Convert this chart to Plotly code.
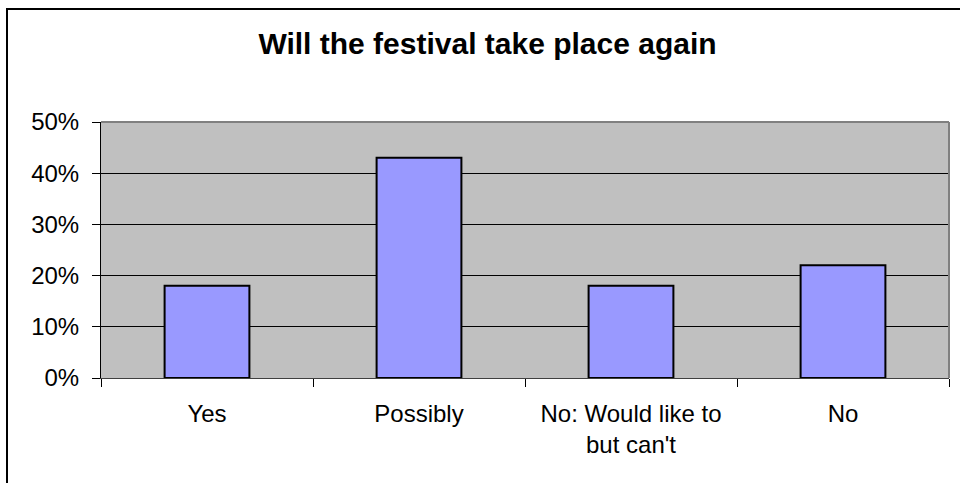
import plotly.graph_objects as go

categories = ["Yes", "Possibly", "No: Would like to<br>but can't", "No"]
values = [0.18, 0.43, 0.18, 0.22]
y_ticks = [0, 0.1, 0.2, 0.3, 0.4, 0.5]
y_tick_labels = ["0%", "10%", "20%", "30%", "40%", "50%"]

W, H = 960, 483
L, R, T, B = 101, 11, 122, 105
pw = W - L - R
ph = H - T - B

def px_x(x):
    return (x - L) / pw

def px_y(y):
    return (H - B - y) / ph

FONT = "Liberation Sans, Arial, sans-serif"

fig = go.Figure()
fig.add_trace(go.Bar(
    x=categories, y=values,
    width=0.4,
    marker=dict(color="#9999FF", line=dict(color="black", width=2)),
))

fig.update_layout(
    width=W, height=H,
    margin=dict(l=L, r=R, t=T, b=B, pad=0),
    paper_bgcolor="white",
    plot_bgcolor="#C0C0C0",
    showlegend=False,
    font=dict(family=FONT, color="black", size=24),
    title=dict(
        text="<b>Will the festival take place again</b>",
        x=487.5 / W, xanchor="center",
        y=1 - 43 / H, yanchor="middle",
        xref="container", yref="container",
        font=dict(family=FONT, size=30, color="black"),
    ),
    bargap=0.6,
)

fig.update_yaxes(
    range=[0, 0.5],
    tickvals=y_ticks, ticktext=y_tick_labels,
    showgrid=True, gridcolor="black", gridwidth=1,
    zeroline=False,
    ticks="outside", ticklen=8, tickcolor="black", tickwidth=1,
    showline=True, linecolor="black", linewidth=1,
    ticklabelstandoff=8,
    tickfont=dict(family=FONT, size=24, color="black"),
)
fig.update_xaxes(
    tickson="boundaries",
    ticks="outside", ticklen=8, tickcolor="black", tickwidth=1,
    showline=True, linecolor="#404040", linewidth=1,
    showgrid=False,
    ticklabelstandoff=14,
    tickfont=dict(family=FONT, size=24, color="black"),
)

# plot area border (gray) on top and right
fig.add_shape(type="line", xref="paper", yref="paper", x0=0, x1=1, y0=1, y1=1,
              line=dict(color="#808080", width=2), layer="above")
fig.add_shape(type="line", xref="paper", yref="paper", x0=1, x1=1, y0=0, y1=1,
              line=dict(color="#808080", width=2), layer="above")

# outer chart border
fig.add_shape(type="rect", xref="paper", yref="paper",
              x0=px_x(7), x1=px_x(965), y0=px_y(488), y1=px_y(9),
              line=dict(color="black", width=2), fillcolor="rgba(0,0,0,0)", layer="above")

fig.write_html("out.html")
